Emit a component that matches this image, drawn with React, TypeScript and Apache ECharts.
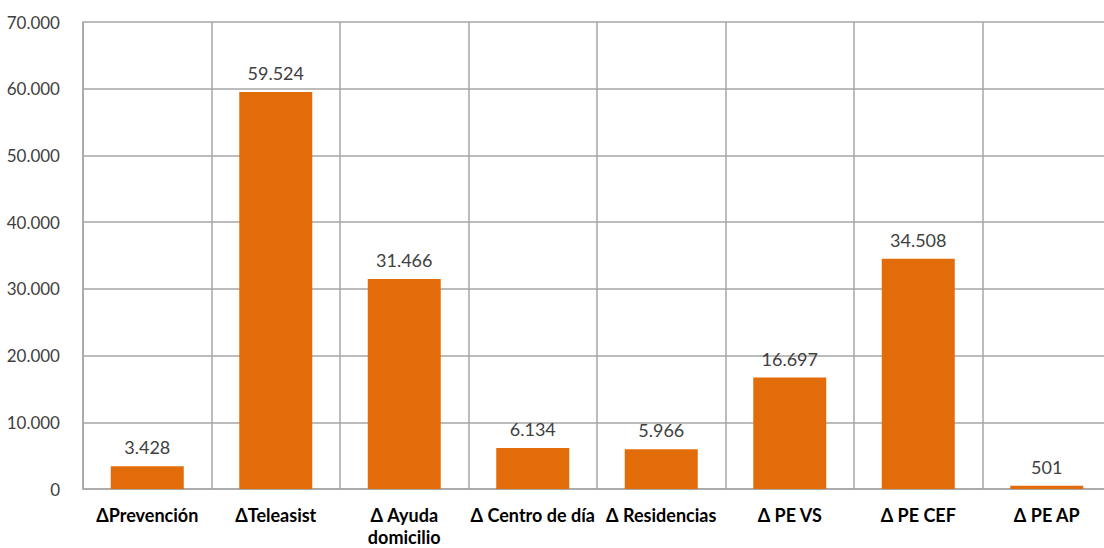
import React, { useEffect, useRef } from "react";
import * as echarts from "echarts";

const categories = [
  "ΔPrevención",
  "ΔTeleasist",
  "Δ Ayuda\ndomicilio",
  "Δ Centro de día",
  "Δ Residencias",
  "Δ PE VS",
  "Δ PE CEF",
  "Δ PE AP",
];
const values = [3428, 59524, 31466, 6134, 5966, 16697, 34508, 501];
const yMin = 0;
const yMax = 70000;
const yInterval = 10000;

const fmt = (v: number) => {
  const s = Math.round(v).toString();
  return s.replace(/\B(?=(\d{3})+(?!\d))/g, ".");
};

export default function App() {
  const ref = useRef<HTMLDivElement>(null);
  useEffect(() => {
    if (!ref.current) return;
    const chart = echarts.init(ref.current, undefined, { renderer: "svg", width: 1120, height: 548 });
    chart.setOption({
      animation: false,
      grid: {
        left: 83,
        right: 9,
        top: 22,
        bottom: 59,
        containLabel: false,
        outerBoundsMode: "none",
      },
      xAxis: {
        type: "category",
        data: categories,
        boundaryGap: true,
        axisLine: { show: true, lineStyle: { color: "#a6a6a6", width: 1.5 } },
        axisTick: { show: false },
        splitLine: { show: true, lineStyle: { color: "#a6a6a6", width: 1.5 } },
        axisLabel: {
          interval: 0,
          color: "#000000",
          fontFamily: "Lato",
          fontWeight: "bold",
          fontSize: 18,
          margin: 15,
          lineHeight: 22,
        },
      },
      yAxis: {
        type: "value",
        min: yMin,
        max: yMax,
        interval: yInterval,
        axisLine: { show: true, lineStyle: { color: "#a6a6a6", width: 1.5 } },
        axisTick: { show: false },
        splitLine: { show: true, lineStyle: { color: "#a6a6a6", width: 1.5 } },
        axisLabel: {
          color: "#404040",
          fontFamily: "Lato",
          fontSize: 17,
          margin: 23,
          formatter: (v: number) => fmt(v),
        },
      },
      series: [
        {
          type: "bar",
          data: values,
          barWidth: 73,
          itemStyle: { color: "#E36C0A" },
          label: {
            show: true,
            position: "top",
            distance: 10,
            color: "#404040",
            fontFamily: "Lato",
            fontSize: 18,
            formatter: (p: any) => fmt(p.value),
          },
        },
      ],
    });
    return () => chart.dispose();
  }, []);
  return (
    <div style={{ position: "fixed", left: 0, top: 0, width: 1104, height: 548, overflow: "hidden", background: "#fff" }}>
      <div ref={ref} style={{ width: 1120, height: 548 }} />
    </div>
  );
}
